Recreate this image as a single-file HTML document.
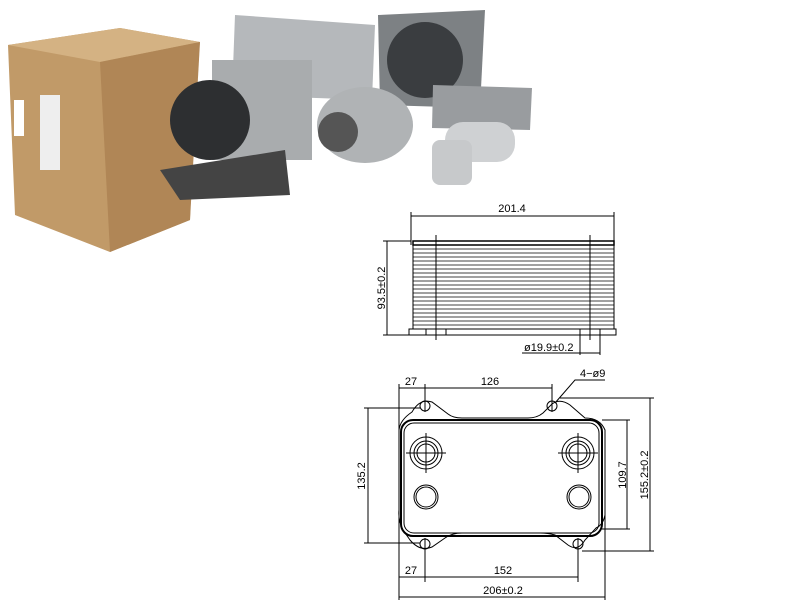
<!DOCTYPE html>
<html><head><meta charset="utf-8"><style>
html,body{margin:0;padding:0;background:#fff;width:810px;height:610px;overflow:hidden}
svg{display:block}
text{font-family:"Liberation Sans",sans-serif;fill:#000}
</style></head><body>
<svg width="810" height="610" viewBox="0 0 810 610" xmlns="http://www.w3.org/2000/svg">
<!-- photo approximation -->
<polygon points="8,45 120,28 200,42 195,75 190,220 110,252 15,215" fill="#c19a68"/>
<polygon points="8,45 120,28 200,42 100,62" fill="#d4b283"/>
<polygon points="100,62 200,42 190,220 110,252" fill="#b08656"/>
<rect x="14" y="100" width="10" height="36" fill="#fff"/>
<rect x="40" y="95" width="20" height="75" fill="#eee"/>
<polygon points="235,15 375,25 372,100 232,95" fill="#b5b8bb"/>
<polygon points="378,15 485,10 480,108 380,105" fill="#7d8184"/>
<circle cx="425" cy="60" r="38" fill="#3a3d40"/>
<polygon points="212,60 312,60 312,160 212,160" fill="#a9acae"/>
<circle cx="210" cy="120" r="40" fill="#2d2f31"/>
<polygon points="160,170 285,150 290,195 180,200" fill="#444"/>
<ellipse cx="365" cy="125" rx="48" ry="38" fill="#b0b3b5"/>
<circle cx="338" cy="132" r="20" fill="#555"/>
<polygon points="433,85 532,88 530,130 432,128" fill="#999c9f"/>
<rect x="445" y="122" width="70" height="40" rx="18" fill="#cfd1d3"/>
<rect x="432" y="140" width="40" height="45" rx="8" fill="#c7c9cb"/>
<g stroke="#000" fill="none" stroke-width="1">
<!-- top drawing -->
<line x1="411" y1="216" x2="614" y2="216"/>
<line x1="411" y1="212" x2="411" y2="245"/>
<line x1="614" y1="212" x2="614" y2="245"/>
<rect x="413" y="241" width="201" height="4" stroke-width="1.5"/>
<g stroke-width="0.8">
<line x1="413" y1="249" x2="614" y2="249"/><line x1="413" y1="253" x2="614" y2="253"/>
<line x1="413" y1="257" x2="614" y2="257"/><line x1="413" y1="261" x2="614" y2="261"/>
<line x1="413" y1="265" x2="614" y2="265"/><line x1="413" y1="269" x2="614" y2="269"/>
<line x1="413" y1="273" x2="614" y2="273"/><line x1="413" y1="277" x2="614" y2="277"/>
<line x1="413" y1="281" x2="614" y2="281"/><line x1="413" y1="285" x2="614" y2="285"/>
<line x1="413" y1="289" x2="614" y2="289"/><line x1="413" y1="293" x2="614" y2="293"/>
<line x1="413" y1="297" x2="614" y2="297"/><line x1="413" y1="301" x2="614" y2="301"/>
<line x1="413" y1="305" x2="614" y2="305"/><line x1="413" y1="309" x2="614" y2="309"/>
<line x1="413" y1="313" x2="614" y2="313"/><line x1="413" y1="317" x2="614" y2="317"/>
<line x1="413" y1="321" x2="614" y2="321"/><line x1="413" y1="325" x2="614" y2="325"/>
</g>
<line x1="413" y1="241" x2="413" y2="329"/><line x1="614" y1="241" x2="614" y2="329"/>
<rect x="409" y="329" width="207" height="6"/>
<line x1="426" y1="329" x2="426" y2="335"/><line x1="446" y1="329" x2="446" y2="335"/>
<line x1="580" y1="329" x2="580" y2="335"/><line x1="600" y1="329" x2="600" y2="335"/>
<line x1="436" y1="235" x2="436" y2="340"/><line x1="590" y1="235" x2="590" y2="340"/>
<line x1="387" y1="241" x2="387" y2="335"/>
<line x1="383" y1="241" x2="411" y2="241"/><line x1="383" y1="335" x2="409" y2="335"/>
<line x1="580" y1="335" x2="580" y2="355"/><line x1="600" y1="335" x2="600" y2="355"/>
<line x1="522" y1="353" x2="600" y2="353"/>
<!-- bottom drawing -->
<path d="M412,412 Q420,398 432,402 L448,414 Q453,418 462,418 L528,418 Q537,418 543,413 L552,404 Q560,398 570,405 L585,418 Q600,418 605,430 L605,515 Q603,525 596,528 L585,540 Q578,552 568,545 L555,535 Q548,533 540,533 L462,533 Q452,533 445,538 L432,547 Q420,552 410,540 L403,530 Q398,520 399,510 L399,430 Q400,420 412,412 Z"/>
<rect x="401" y="420" width="201" height="116" rx="12" stroke-width="2"/>
<rect x="404" y="423" width="195" height="110" rx="10"/>
<circle cx="425" cy="406" r="5"/><circle cx="552" cy="406" r="5"/>
<circle cx="425" cy="544" r="5"/><circle cx="578" cy="544" r="5"/>
<circle cx="426" cy="453" r="16"/><circle cx="426" cy="453" r="12"/><circle cx="426" cy="453" r="9"/>
<circle cx="578" cy="453" r="16"/><circle cx="578" cy="453" r="12"/><circle cx="578" cy="453" r="9"/>
<line x1="406" y1="453" x2="446" y2="453"/><line x1="426" y1="433" x2="426" y2="473"/>
<line x1="558" y1="453" x2="598" y2="453"/><line x1="578" y1="433" x2="578" y2="473"/>
<circle cx="426" cy="497" r="12"/><circle cx="426" cy="497" r="10"/>
<circle cx="579" cy="497" r="12"/><circle cx="579" cy="497" r="10"/>
<line x1="399" y1="388" x2="552" y2="388"/>
<line x1="399" y1="384" x2="399" y2="600"/>
<line x1="425" y1="384" x2="425" y2="412"/><line x1="552" y1="384" x2="552" y2="412"/>
<line x1="425" y1="538" x2="425" y2="582"/><line x1="578" y1="538" x2="578" y2="582"/>
<line x1="605" y1="515" x2="605" y2="600"/>
<polyline points="555,403 575,380 605,380"/>
<line x1="368" y1="408" x2="368" y2="543"/>
<line x1="364" y1="408" x2="420" y2="408"/><line x1="364" y1="543" x2="420" y2="543"/>
<line x1="627" y1="420" x2="627" y2="529"/>
<line x1="602" y1="420" x2="630" y2="420"/><line x1="602" y1="529" x2="630" y2="529"/>
<line x1="650" y1="398" x2="650" y2="551"/>
<line x1="560" y1="398" x2="654" y2="398"/><line x1="582" y1="551" x2="654" y2="551"/>
<line x1="399" y1="577" x2="578" y2="577"/>
<line x1="399" y1="597" x2="605" y2="597"/>
</g>
<g font-size="11">
<text x="512" y="212" text-anchor="middle">201.4</text>
<text x="0" y="0" transform="translate(385,288) rotate(-90)" text-anchor="middle">93.5±0.2</text>
<text x="524" y="351">ø19.9±0.2</text>
<text x="411" y="385" text-anchor="middle">27</text>
<text x="490" y="385" text-anchor="middle">126</text>
<text x="580" y="377">4−ø9</text>
<text x="0" y="0" transform="translate(365,476) rotate(-90)" text-anchor="middle">135.2</text>
<text x="0" y="0" transform="translate(626,475) rotate(-90)" text-anchor="middle">109.7</text>
<text x="0" y="0" transform="translate(648,475) rotate(-90)" text-anchor="middle">155.2±0.2</text>
<text x="411" y="574" text-anchor="middle">27</text>
<text x="503" y="574" text-anchor="middle">152</text>
<text x="503" y="594" text-anchor="middle">206±0.2</text>
</g>
</svg>
</body></html>
